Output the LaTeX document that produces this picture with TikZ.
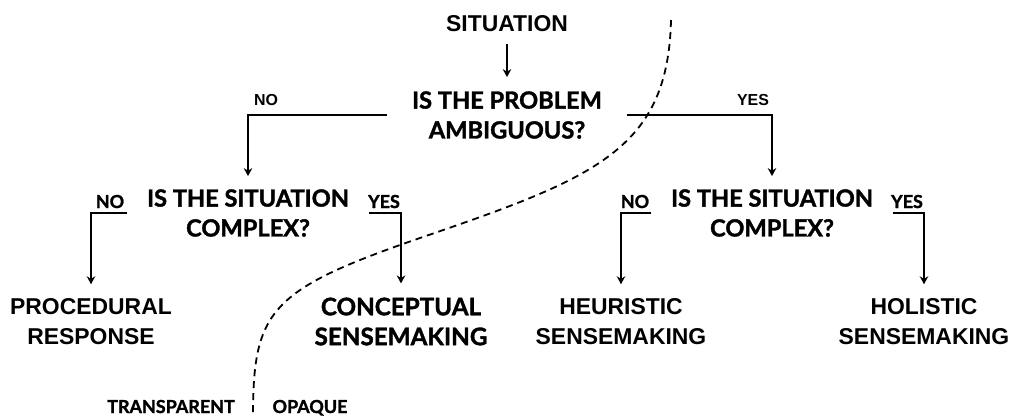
\documentclass[tikz,border=0pt]{standalone}
\usepackage{fontspec}
\setmainfont{Liberation Sans}
\newfontfamily\hanken[BoldFeatures={FakeBold=1.5}]{Lato}
\usetikzlibrary{arrows.meta}
\begin{document}
\begin{tikzpicture}[x=1bp,y=-1bp,
  arr/.style={line width=1.8bp,-{Stealth[length=8bp,width=8.5bp]}},
  ar/.style={font=\fontsize{23}{30}\selectfont\bfseries, align=center, inner sep=0pt},
  hk/.style={font=\hanken\fontsize{23.7}{30}\selectfont\bfseries, align=center, inner sep=0pt},
  hkc/.style={font=\hanken\fontsize{24.3}{30}\selectfont\bfseries, align=center, inner sep=0pt},
  lbl/.style={font=\fontsize{16}{18}\selectfont\bfseries, inner sep=0pt, text height=11.5bp, text depth=0pt},
  hlbl/.style={font=\hanken\fontsize{18}{18}\selectfont\bfseries, inner sep=0pt, text height=12bp, text depth=0pt},
  sep/.style={dash pattern=on 7bp off 5bp, line width=1.8bp}
]
\useasboundingbox (0,0) rectangle (1012,417);
% nodes
\node[ar, text height=16.5bp, text depth=0pt] (sit) at (507,23) {SITUATION};
\node[hk, inner xsep=25bp, inner ysep=0pt] (q1) at (507,115) {IS THE PROBLEM\\AMBIGUOUS?};
\node[hk, inner xsep=19.5bp, inner ysep=0pt] (q2l) at (248,213) {IS THE SITUATION\\COMPLEX?};
\node[hk, inner xsep=19.5bp, inner ysep=0pt] (q2r) at (772,213) {IS THE SITUATION\\COMPLEX?};
\node[ar] (proc) at (91,321.5) {PROCEDURAL\\RESPONSE};
\node[hkc] (conc) at (401,321.5) {CONCEPTUAL\\SENSEMAKING};
\node[ar] (heur) at (621,321.5) {HEURISTIC\\SENSEMAKING};
\node[ar] (hol) at (924,321.5) {HOLISTIC\\SENSEMAKING};
% labels
\node[lbl] (no1) at (266,100) {NO};
\node[lbl] (yes1) at (753,100) {YES};
\node[hlbl] (no2) at (110,202) {NO};
\node[hlbl] (yes2) at (384,202) {YES};
\node[hlbl] (no3) at (635,202) {NO};
\node[hlbl] (yes3) at (907,202) {YES};
\node[hlbl] (trans) at (171,407) {TRANSPARENT};
\node[hlbl] (opq) at (310,407) {OPAQUE};
% connectors
\draw[arr, shorten <=13bp, shorten >=14bp] (sit.south) -- (q1.north);
\draw[arr, shorten >=13bp] (q1.west) -| (q2l.north);
\draw[arr, shorten >=13bp] (q1.east) -| (q2r.north);
\draw[arr, shorten >=14bp] (q2l.west) -| (proc.north);
\draw[arr, shorten >=14bp] (q2l.east) -| (conc.north);
\draw[arr, shorten >=14bp] (q2r.west) -| (heur.north);
\draw[arr, shorten >=14bp] (q2r.east) -| (hol.north);
% separator
\draw[sep] (671,20) .. controls (668,150) and (595,178) .. (420,238)
  .. controls (269,290) and (253,311) .. (253,417);
\end{tikzpicture}
\end{document}
